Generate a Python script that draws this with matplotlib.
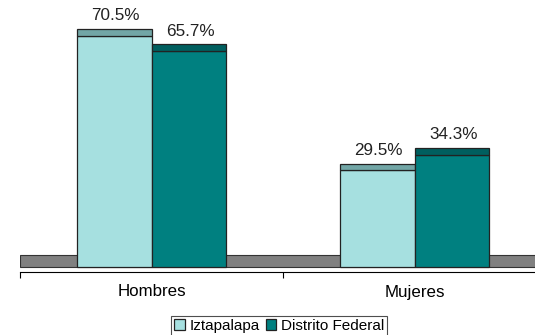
import matplotlib
matplotlib.use('Agg')
matplotlib.rc('font', family='Liberation Sans')
import matplotlib.pyplot as plt
import numpy as np
from matplotlib.patches import Rectangle

categorias = ['Hombres', 'Mujeres']
series = ['Iztapalapa', 'Distrito Federal']
iztapalapa = [70.5, 29.5]
distrito_federal = [65.7, 34.3]

caras = ['#a6e0e0', '#008080']
tapas = ['#72a6a6', '#005f5f']

fig = plt.figure(figsize=(5.35, 3.35), dpi=100)
# the axes runs a little past the right edge, like the original sheet
ax = fig.add_axes([20 / 535, 63 / 335, 526 / 535, 272 / 335])
ax.set_xlim(-0.5, 1.5)
ax.set_ylim(-1.37, 81.3)

# grey floor under the bars
piso = 3.65
ax.add_patch(Rectangle((-0.5, 0), 2.0, piso, facecolor='#808080',
                       edgecolor='#333333', linewidth=0.8, zorder=1))

index = np.arange(len(categorias))
ancho = 0.285
tapa = 2.1
for k, valores in enumerate([iztapalapa, distrito_federal]):
    pos = index + (k - 0.5) * ancho
    ax.bar(pos, valores, ancho, color=caras[k], edgecolor='#222222',
           linewidth=0.9, zorder=3, label=series[k])
    ax.bar(pos, [tapa] * len(valores), ancho, bottom=valores, color=tapas[k],
           edgecolor='#222222', linewidth=0.9, zorder=3)
    for x, v in zip(pos, valores):
        ax.text(x + 0.006, v + tapa + 1.6, '%.1f%%' % v, ha='center',
                va='bottom', fontsize=12.3, color='#222222', zorder=4)

for s in ['top', 'right', 'left']:
    ax.spines[s].set_visible(False)
ax.spines['bottom'].set_linewidth(0.8)
ax.set_yticks([])
ax.set_xticks(index)
ax.set_xticklabels(categorias, fontsize=12.2)
ax.tick_params(axis='x', which='major', length=0, pad=9)
ax.set_xticks([-0.5, 0.5, 1.5], minor=True)
ax.tick_params(axis='x', which='minor', length=4, width=0.8)

leg = ax.legend(loc='center', bbox_to_anchor=(279 / 535, 9 / 335),
                bbox_transform=fig.transFigure, ncol=2, fontsize=11,
                frameon=True, fancybox=False, edgecolor='#222222',
                handlelength=0.7, handleheight=0.7, handletextpad=0.3,
                columnspacing=0.4, borderpad=0.2, borderaxespad=0)
leg.get_frame().set_linewidth(0.8)

plt.savefig('out.png', dpi=100)
